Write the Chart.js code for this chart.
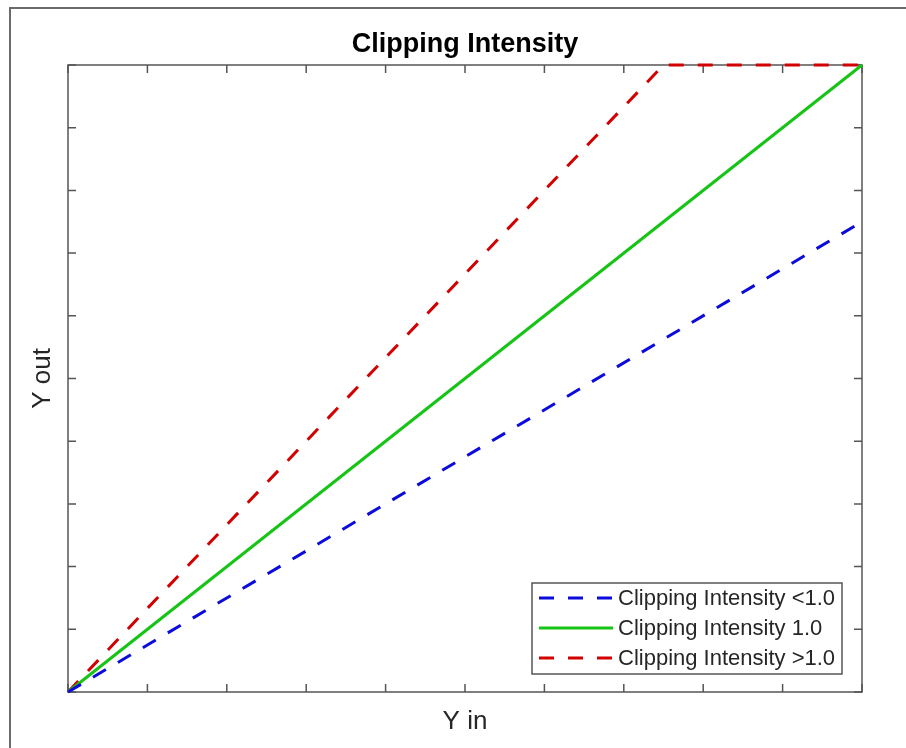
<!DOCTYPE html>
<html>
<head>
<meta charset="utf-8">
<title>Clipping Intensity</title>
<script src="https://cdn.jsdelivr.net/npm/chart.js@4.4.1/dist/chart.umd.min.js"></script>
<style>
  html, body { margin: 0; padding: 0; background: #fff; }
  canvas { display: block; }
</style>
</head>
<body>
<canvas id="clipChart" width="906" height="748"></canvas>
<script>
// input luminance samples and the three output curves
const yIn = [0, 0.75, 1];
const outLow = [0, 0.5625, 0.75];   // intensity < 1.0
const outUnity = [0, 0.75, 1];      // intensity = 1.0
const outHigh = [0, 1, 1];          // intensity > 1.0, clips at top

const seriesLabels = ['Clipping Intensity <1.0', 'Clipping Intensity 1.0', 'Clipping Intensity >1.0'];
const tickValues = [0, 0.1, 0.2, 0.3, 0.4, 0.5, 0.6, 0.7, 0.8, 0.9, 1];
const chartTitle = 'Clipping Intensity';

const axisColor = '#555555';
const fontFamily = '"Liberation Sans", Arial, Helvetica, sans-serif';

function toPoints(ys) {
    return yIn.map((x, i) => ({ x: x, y: ys[i] }));
}

// white page, figure frame, title over the axes, axes box and inward ticks
const boxPlugin = {
    id: 'box',
    beforeDraw(chart) {
        const ctx = chart.ctx;
        const a = chart.chartArea;
        ctx.save();
        ctx.fillStyle = '#fff';
        ctx.fillRect(0, 0, chart.width, chart.height);
        ctx.strokeStyle = '#6a6a6a';
        ctx.lineWidth = 2;
        ctx.beginPath();
        ctx.moveTo(10, chart.height);
        ctx.lineTo(10, 8);
        ctx.lineTo(chart.width, 8);
        ctx.stroke();
        ctx.fillStyle = '#000';
        ctx.font = 'bold 27px ' + fontFamily;
        ctx.textAlign = 'center';
        ctx.textBaseline = 'alphabetic';
        ctx.fillText(chartTitle, (a.left + a.right) / 2, a.top - 13);
        ctx.restore();
    },
    beforeDatasetsDraw(chart) {
        const ctx = chart.ctx;
        const a = chart.chartArea;
        const xs = chart.scales.x, ys = chart.scales.y;
        const len = 8;
        ctx.save();
        ctx.strokeStyle = axisColor;
        ctx.lineWidth = 1.5;
        ctx.strokeRect(a.left, a.top, a.right - a.left, a.bottom - a.top);
        ctx.beginPath();
        tickValues.forEach(v => {
            const px = xs.getPixelForValue(v);
            ctx.moveTo(px, a.bottom); ctx.lineTo(px, a.bottom - len);
            ctx.moveTo(px, a.top); ctx.lineTo(px, a.top + len);
            const py = ys.getPixelForValue(v);
            ctx.moveTo(a.left, py); ctx.lineTo(a.left + len, py);
            ctx.moveTo(a.right, py); ctx.lineTo(a.right - len, py);
        });
        ctx.stroke();
        ctx.restore();
    },
    afterDatasetsDraw(chart) {
        // legend in the lower right corner of the axes
        const ctx = chart.ctx;
        const a = chart.chartArea;
        const w = 310, h = 91;
        const right = a.right - 20, bottom = a.bottom - 18;
        const left = right - w, top = bottom - h;
        ctx.save();
        ctx.fillStyle = '#fff';
        ctx.fillRect(left, top, w, h);
        ctx.strokeStyle = axisColor;
        ctx.lineWidth = 1.5;
        ctx.strokeRect(left, top, w, h);
        ctx.font = '22px ' + fontFamily;
        ctx.textBaseline = 'middle';
        ctx.fillStyle = '#262626';
        chart.data.datasets.forEach((ds, i) => {
            const cy = top + 15 + i * 30;
            ctx.strokeStyle = ds.borderColor;
            ctx.lineWidth = ds.borderWidth;
            ctx.setLineDash(ds.borderDash || []);
            ctx.beginPath();
            ctx.moveTo(left + 7, cy);
            ctx.lineTo(left + 81, cy);
            ctx.stroke();
            ctx.setLineDash([]);
            ctx.fillText(ds.label, left + 86, cy + 1);
        });
        ctx.restore();
    }
};

new Chart(document.getElementById('clipChart'), {
    type: 'line',
    data: {
        datasets: [
            {
                label: seriesLabels[0],
                data: toPoints(outLow),
                borderColor: '#0b0bdc',
                borderWidth: 3,
                borderDash: [15, 14]
            },
            {
                label: seriesLabels[1],
                data: toPoints(outUnity),
                borderColor: '#16c416',
                borderWidth: 3
            },
            {
                label: seriesLabels[2],
                data: toPoints(outHigh),
                borderColor: '#d20000',
                borderWidth: 3,
                borderDash: [15, 14]
            }
        ]
    },
    options: {
        responsive: false,
        animation: false,
        elements: { point: { radius: 0 }, line: { tension: 0 } },
        datasets: { line: { clip: false } },
        layout: { padding: { left: 0, right: 44, top: 65, bottom: 0 } },
        plugins: {
            legend: { display: false },
            tooltip: { enabled: false },
            title: { display: false }
        },
        scales: {
            x: {
                type: 'linear',
                min: 0,
                max: 1,
                ticks: { display: false, stepSize: 0.1 },
                grid: { display: false },
                border: { display: false },
                title: {
                    display: true,
                    text: 'Y in',
                    color: '#262626',
                    font: { family: fontFamily, size: 26, lineHeight: 1.2 },
                    padding: { top: 0, bottom: 11 }
                },
                afterFit(scale) { scale.height = 56; }
            },
            y: {
                type: 'linear',
                min: 0,
                max: 1,
                ticks: { display: false, stepSize: 0.1 },
                grid: { display: false },
                border: { display: false },
                title: {
                    display: true,
                    text: 'Y out',
                    color: '#262626',
                    font: { family: fontFamily, size: 26, lineHeight: 1.2 },
                    padding: { top: 27, bottom: 0 }
                },
                afterFit(scale) { scale.width = 68; }
            }
        }
    },
    plugins: [boxPlugin]
});
</script>
</body>
</html>
